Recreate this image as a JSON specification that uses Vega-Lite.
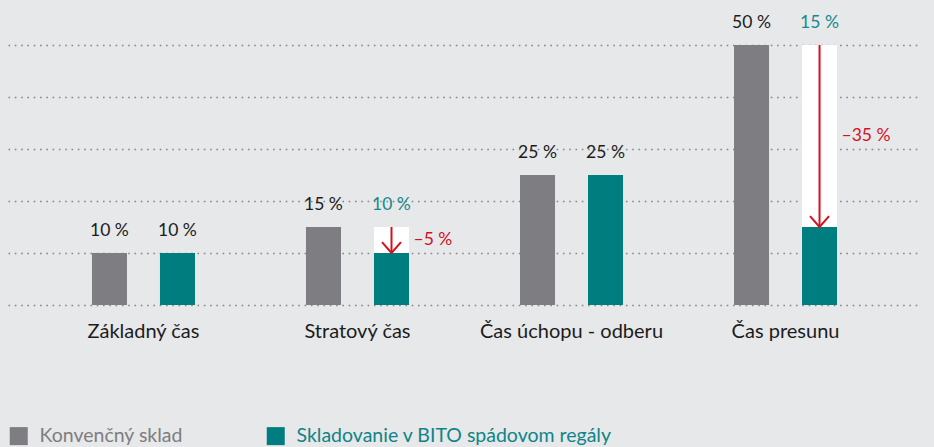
{
  "$schema": "https://vega.github.io/schema/vega-lite/v6.json",
  "width": 913,
  "height": 260,
  "autosize": {"type": "none"},
  "padding": {"left": 8, "top": 45, "right": 13, "bottom": 142},
  "background": "#e7e8ea",
  "config": {
    "view": {"stroke": null},
    "font": "Lato",
    "text": {"font": "Lato"}
  },
  "data": {
    "values": [
      {"group": "Základný čas", "series": "Konvenčný sklad", "value": 10, "base": 10, "label": "10 %", "change": null, "change_label": null},
      {"group": "Základný čas", "series": "Skladovanie v BITO spádovom regály", "value": 10, "base": 10, "label": "10 %", "change": null, "change_label": null},
      {"group": "Stratový čas", "series": "Konvenčný sklad", "value": 15, "base": 15, "label": "15 %", "change": null, "change_label": null},
      {"group": "Stratový čas", "series": "Skladovanie v BITO spádovom regály", "value": 10, "base": 15, "label": "10 %", "change": -5, "change_label": "–5 %"},
      {"group": "Čas úchopu - odberu", "series": "Konvenčný sklad", "value": 25, "base": 25, "label": "25 %", "change": null, "change_label": null},
      {"group": "Čas úchopu - odberu", "series": "Skladovanie v BITO spádovom regály", "value": 25, "base": 25, "label": "25 %", "change": null, "change_label": null},
      {"group": "Čas presunu", "series": "Konvenčný sklad", "value": 50, "base": 50, "label": "50 %", "change": null, "change_label": null},
      {"group": "Čas presunu", "series": "Skladovanie v BITO spádovom regály", "value": 15, "base": 50, "label": "15 %", "change": -35, "change_label": "–35 %"}
    ]
  },
  "encoding": {
    "x": {
      "field": "group",
      "type": "nominal",
      "sort": ["Základný čas", "Stratový čas", "Čas úchopu - odberu", "Čas presunu"],
      "scale": {
        "domain": ["Základný čas", "Stratový čas", "Čas úchopu - odberu", "Čas presunu"],
        "paddingInner": 0,
        "paddingOuter": 0.133
      },
      "axis": {
        "title": null,
        "labelAngle": 0,
        "domain": false,
        "ticks": false,
        "labelPadding": 16,
        "labelFontSize": 20,
        "labelLimit": 400,
        "labelColor": "#1c1c1c",
        "labelFont": "Lato",
        "grid": false
      }
    },
    "xOffset": {
      "field": "series",
      "type": "nominal",
      "sort": ["Konvenčný sklad", "Skladovanie v BITO spádovom regály"],
      "scale": {
        "domain": ["Konvenčný sklad", "Skladovanie v BITO spádovom regály"],
        "paddingInner": 0.485,
        "paddingOuter": 0.816
      }
    }
  },
  "layer": [
    {
      "mark": {"type": "bar", "color": "#ffffff"},
      "transform": [{"filter": "datum.change != null"}],
      "encoding": {
        "y": {
          "field": "value",
          "type": "quantitative",
          "scale": {"domain": [0, 50], "nice": false},
          "axis": {
            "title": null,
            "labels": false,
            "ticks": false,
            "domain": false,
            "values": [0, 10, 20, 30, 40, 50],
            "grid": true,
            "gridColor": "#858585",
            "gridWidth": 1.6,
            "gridDash": [1.6, 4.7]
          }
        },
        "y2": {"field": "base"}
      }
    },
    {
      "mark": {"type": "bar"},
      "encoding": {
        "y": {"field": "value", "type": "quantitative"},
        "color": {
          "field": "series",
          "type": "nominal",
          "scale": {
            "domain": ["Konvenčný sklad", "Skladovanie v BITO spádovom regály"],
            "range": ["#7e7d81", "#007d7f"]
          },
          "legend": {
            "title": null,
            "orient": "none",
            "direction": "horizontal",
            "legendX": 1,
            "legendY": 381,
            "symbolType": "square",
            "symbolSize": 324,
            "symbolStrokeWidth": 0,
            "labelFontSize": 19.5,
            "labelFont": "Lato",
            "labelOffset": 11,
            "columnPadding": 83,
            "padding": 0,
            "labelLimit": 400,
            "encode": {
              "labels": {
                "update": {
                  "fill": {"signal": "datum.value === 'Konvenčný sklad' ? '#7e7d81' : '#108486'"}
                }
              }
            }
          }
        }
      }
    },
    {
      "mark": {"type": "text", "baseline": "alphabetic", "dy": -17, "fontSize": 17.5, "font": "Lato"},
      "encoding": {
        "y": {"field": "base", "type": "quantitative"},
        "text": {"field": "label"},
        "color": {
          "condition": {"test": "datum.change != null", "value": "#16898b"},
          "value": "#1c1c1c"
        }
      }
    },
    {
      "mark": {"type": "rule", "color": "#d7101e", "strokeWidth": 2},
      "transform": [{"filter": "datum.change != null"}],
      "encoding": {
        "y": {"field": "base", "type": "quantitative"},
        "y2": {"field": "value"}
      }
    },
    {
      "mark": {
        "type": "point",
        "shape": "M-1,-1.15L0,0L1,-1.15",
        "filled": false,
        "size": 361,
        "color": "#d7101e",
        "strokeWidth": 2,
        "opacity": 1
      },
      "transform": [{"filter": "datum.change != null"}],
      "encoding": {
        "y": {"field": "value", "type": "quantitative"}
      }
    },
    {
      "mark": {"type": "text", "align": "left", "baseline": "middle", "dx": 22, "fontSize": 17.5, "font": "Lato", "color": "#d7101e"},
      "transform": [
        {"filter": "datum.change != null"},
        {"calculate": "(datum.value + datum.base) / 2", "as": "mid"}
      ],
      "encoding": {
        "y": {"field": "mid", "type": "quantitative"},
        "text": {"field": "change_label"}
      }
    }
  ]
}
